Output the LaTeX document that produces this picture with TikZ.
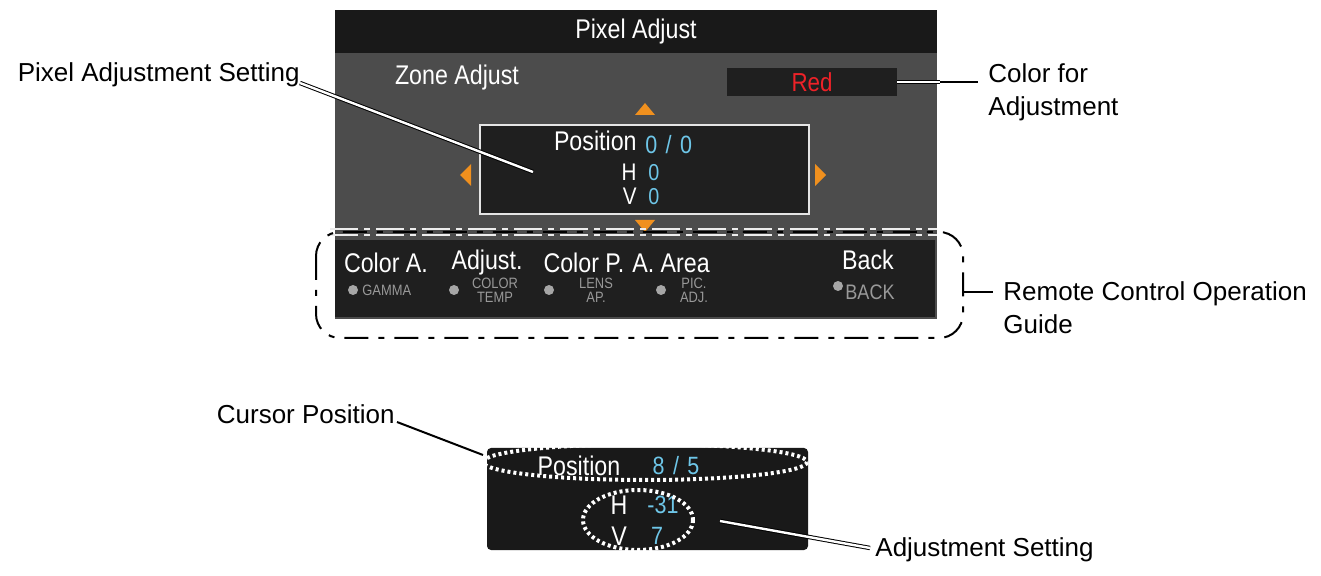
\documentclass[tikz,border=0pt]{standalone}
\usepackage{fontspec}
\setmainfont{Liberation Sans}
\newfontfamily\narrowf[FakeStretch=0.86]{Liberation Sans}
\begin{document}
\begin{tikzpicture}[x=0.5pt,y=-0.5pt,
  lbl/.style={font=\fontsize{13}{16.5}\selectfont,text=black,inner sep=0pt},
  wt/.style={font=\narrowf\fontsize{13.5}{14}\selectfont,text=white,inner sep=0pt},
  cy/.style={font=\narrowf\fontsize{12.5}{14}\selectfont,text=cyanT,inner sep=0pt},
  sm/.style={font=\narrowf\fontsize{7.5}{7}\selectfont,text=gray!80,inner sep=0pt,align=center},
  dot/.style={circle,fill=gray!70,inner sep=0pt,minimum size=5pt},
  tri/.style={fill=orangeT},
  dbl/.style={draw=black,double=white,double distance=1.2pt,line width=0.5pt},
  dots/.style={draw=white,line width=2pt,dash pattern=on 1.5pt off 1.5pt}]
\definecolor{cyanT}{HTML}{6EC6E8}
\definecolor{orangeT}{HTML}{F0901E}
\definecolor{redT}{HTML}{EE2228}
\useasboundingbox (0,0) rectangle (1321,576);
% screen
\fill[gray!60!black] (335,10) rectangle (937,319);
\fill[black!90] (335,10) rectangle (937,53);
\node[wt] (title) at (636,32) {Pixel Adjust};
\node[wt] (zone) at (457,78) {Zone Adjust};
\fill[black!88] (727,68) rectangle (897,96);
\node[font=\narrowf\fontsize{13}{14}\selectfont,text=redT,inner sep=0pt] (red) at (812,82) {Red};
\coordinate (redR) at (897,82);
\draw[white!80!gray,line width=1pt,fill=black!88] (480,125) rectangle (809,214);
\node[wt,anchor=east] (pos) at (637,141) {Position};
\node[cy,anchor=west] (pv) at (645,145) {0\,\,/\,\,0};
\node[wt,anchor=east,font=\narrowf\fontsize{12}{12}\selectfont] (h) at (637,172) {H};
\node[cy,anchor=west,font=\narrowf\fontsize{11.5}{12}\selectfont] (hv) at (648,173) {0};
\node[wt,anchor=east,font=\narrowf\fontsize{12}{12}\selectfont] (v) at (637,196) {V};
\node[cy,anchor=west,font=\narrowf\fontsize{11.5}{12}\selectfont] (vv) at (648,197) {0};
\fill[tri] (635,115)--(655,115)--(645,103)--cycle;
\fill[tri] (635,220)--(655,220)--(645,232)--cycle;
\fill[tri] (471,164)--(471,186)--(460,175)--cycle;
\fill[tri] (815,164)--(815,186)--(826,175)--cycle;
% bottom panel
\fill[black!88] (335,240) rectangle (935,317);
\draw[white!85!gray,line width=1pt,dash pattern=on 14pt off 3pt on 3pt off 3pt] (330,229)--(937,229);
\draw[white!85!gray,line width=1pt,dash pattern=on 14pt off 3pt on 3pt off 3pt] (330,235)--(937,235);
\node[wt] (ca) at (386,263) {Color A.};
\node[wt] (ad) at (487,263) {Adjust.};
\node[wt] (cp) at (584,263) {Color P.};
\node[wt] (aa) at (671,263) {A. Area};
\node[wt] (bk) at (868,260) {Back};
\node[dot] (d1) at (353,290) {}; \node[sm,anchor=west] (s1) at (362,290) {GAMMA};
\node[dot] (d2) at (454,290) {}; \node[sm] (s2) at (495,290) {COLOR\\TEMP};
\node[dot] (d3) at (549,290) {}; \node[sm] (s3) at (596,290) {LENS\\AP.};
\node[dot] (d4) at (661,290) {}; \node[sm] (s4) at (694,290) {PIC.\\ADJ.};
\node[dot] (d5) at (838,286) {};
\node[font=\narrowf\fontsize{10.5}{10}\selectfont,text=gray!80,inner sep=0pt,anchor=west] (s5) at (845,292) {BACK};
\draw[black,line width=1pt,rounded corners=12pt,dash pattern=on 12pt off 5pt on 3pt off 5pt] (316,232) rectangle (963,338);
\coordinate (rcR) at (963,292);
% labels
\node[lbl,anchor=east] (pas) at (300,75) {Pixel Adjustment Setting};
\draw[dbl] (pas.east) ++(0,8) -- (533,172);
\node[lbl,anchor=west,align=left] (cfa) at (988,92) {Color for\\Adjustment};
\draw[dbl] (redR) -- (940,82);
\draw[black,line width=1pt] (940,82) -- (978,82);
\node[lbl,anchor=west,align=left] (rco) at (1003,308) {Remote Control Operation\\Guide};
\draw[black,line width=1pt] (rcR) -- (993,292);
% lower box
\fill[black!90,rounded corners=2pt] (487,448) rectangle (808,550);
\node[wt] (pos2) at (579,466) {Position};
\node[cy] (pv2) at (676,466) {8\,\,/\,\,5};
\node[wt] (h2) at (619,505) {H};
\node[cy] (hv2) at (663,505) {-31};
\node[wt] (v2) at (619,536) {V};
\node[cy] (vv2) at (657,536) {7};
\draw[dots] (645,462) ellipse [x radius=162, y radius=18];
\draw[dots] (638,520) ellipse [x radius=55, y radius=30];
\node[lbl,anchor=east] (cur) at (395,414) {Cursor Position};
\draw[black,line width=1pt] (397,422) -- (483,455);
\node[lbl,anchor=west] (ads) at (875,550) {Adjustment Setting};
\draw[dbl] (720,521) -- (870,548);
\end{tikzpicture}
\end{document}
